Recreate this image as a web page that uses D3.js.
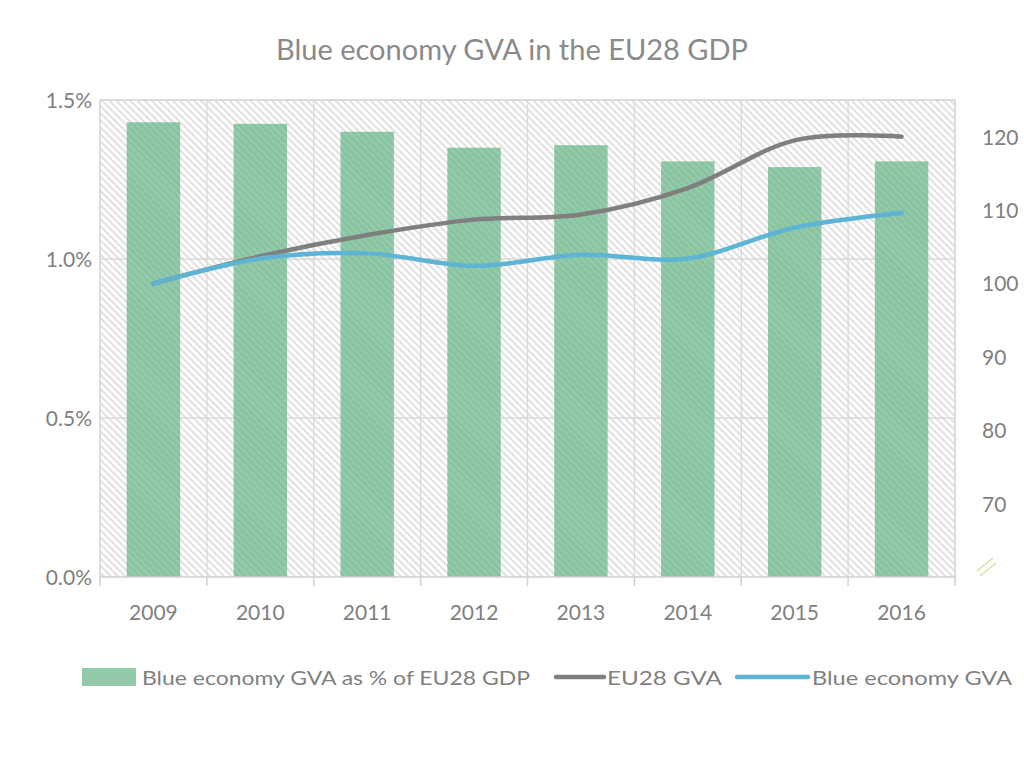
<!DOCTYPE html>
<html><head><meta charset="utf-8">
<script src="https://cdn.jsdelivr.net/npm/d3@7"></script>
<style>
html,body{margin:0;padding:0;background:#fff;}
text{font-family:Lato,"Open Sans",sans-serif;fill:#808080;}
</style></head>
<body>
<svg id="chart" width="1024" height="757"></svg>
<script>
const years = ["2009","2010","2011","2012","2013","2014","2015","2016"];
const sharePct = [1.43, 1.425, 1.40, 1.35, 1.358, 1.307, 1.289, 1.307];
const eu28Gva = [100, 103.7, 106.6, 108.7, 109.4, 113.0, 119.5, 120.0];
const blueGva = [100, 103.4, 104.1, 102.4, 103.9, 103.4, 107.6, 109.6];
const leftTicks = [0, 0.5, 1.0, 1.5];
const rightTicks = [70, 80, 90, 100, 110, 120];
const titleText = "Blue economy GVA in the EU28 GDP";
const legendLabels = ["Blue economy GVA as % of EU28 GDP", "EU28 GVA", "Blue economy GVA"];

const svg = d3.select("#chart");
const M = {left:100, right:955, top:100, bottom:577};

const defs = svg.append("defs");
const bgPat = defs.append("pattern").attr("id","bgHatch").attr("patternUnits","userSpaceOnUse")
  .attr("width",5).attr("height",5).attr("patternTransform","rotate(-45)");
bgPat.append("rect").attr("width",5).attr("height",5).attr("fill","#ffffff");
bgPat.append("line").attr("x1",1).attr("y1",0).attr("x2",1).attr("y2",5).attr("stroke","#dedede").attr("stroke-width",1.8);
const barPat = defs.append("pattern").attr("id","barHatch").attr("patternUnits","userSpaceOnUse")
  .attr("width",5).attr("height",5).attr("patternTransform","rotate(-45)");
barPat.append("rect").attr("width",5).attr("height",5).attr("fill","#92caaa");
barPat.append("line").attr("x1",1).attr("y1",0).attr("x2",1).attr("y2",5).attr("stroke","#86c09f").attr("stroke-width",1.8);

const x = d3.scaleBand().domain(years).range([M.left, M.right]).paddingInner(0).paddingOuter(0);
const yL = d3.scaleLinear().domain([0, 1.5]).range([M.bottom, M.top]);
const yR = d3.scaleLinear().domain([60, 125]).range([M.bottom, M.top]);

// background
svg.append("rect").attr("x",M.left).attr("y",M.top).attr("width",M.right-M.left).attr("height",M.bottom-M.top)
  .attr("fill","url(#bgHatch)");

// gridlines
const grid = svg.append("g");
grid.selectAll("line.h").data(leftTicks.filter(d=>d>0)).join("line")
  .attr("x1",M.left).attr("x2",M.right).attr("y1",d=>yL(d)).attr("y2",d=>yL(d))
  .attr("stroke","#d9d9d9").attr("stroke-width",1.3);
const bounds = years.map(y=>x(y)).concat([M.right]);
grid.selectAll("line.v").data(bounds).join("line")
  .attr("x1",d=>d).attr("x2",d=>d).attr("y1",M.top).attr("y2",M.bottom)
  .attr("stroke","#d9d9d9").attr("stroke-width",1.3);

// bars
const bw = x.bandwidth()*0.5;
svg.append("g").selectAll("rect").data(years).join("rect")
  .attr("x",(d)=>x(d)+x.bandwidth()/2-bw/2)
  .attr("width",bw)
  .attr("y",(d,i)=>yL(sharePct[i]))
  .attr("height",(d,i)=>yL(0)-yL(sharePct[i]))
  .attr("fill","url(#barHatch)");

// x axis
const xAxis = svg.append("g");
xAxis.append("line").attr("x1",M.left).attr("x2",M.right).attr("y1",M.bottom).attr("y2",M.bottom)
  .attr("stroke","#d0d0d0").attr("stroke-width",1.5);
xAxis.selectAll("line.t").data(bounds).join("line")
  .attr("x1",d=>d).attr("x2",d=>d).attr("y1",M.bottom).attr("y2",M.bottom+9)
  .attr("stroke","#d0d0d0").attr("stroke-width",1.5);
xAxis.selectAll("text").data(years).join("text")
  .attr("x",d=>x(d)+x.bandwidth()/2).attr("y",620)
  .attr("text-anchor","middle").attr("font-size",21).text(d=>d);

// left axis labels
svg.append("g").selectAll("text").data(leftTicks).join("text")
  .attr("x",92).attr("y",d=>yL(d)+8).attr("text-anchor","end").attr("font-size",21)
  .text(d=>d3.format(".1f")(d)+"%");

// right axis labels
svg.append("g").selectAll("text").data(rightTicks).join("text")
  .attr("x",982).attr("y",d=>yR(d)+8).attr("text-anchor","start").attr("font-size",21)
  .text(d=>d);

// axis break marks
const brk = svg.append("g").attr("stroke","#d6e29a").attr("stroke-width",1.6);
brk.append("line").attr("x1",977).attr("y1",571).attr("x2",993).attr("y2",558);
brk.append("line").attr("x1",980).attr("y1",576).attr("x2",996).attr("y2",563);

// lines
const lineGen = (arr)=>d3.line().x((d,i)=>x(years[i])+x.bandwidth()/2).y(d=>yR(d)).curve(d3.curveCardinal.tension(0))(arr);
svg.append("path").attr("d",lineGen(eu28Gva)).attr("fill","none").attr("stroke","#7f7f7f").attr("stroke-width",4.5).attr("stroke-linecap","round");
svg.append("path").attr("d",lineGen(blueGva)).attr("fill","none").attr("stroke","#5db4d4").attr("stroke-width",4.5).attr("stroke-linecap","round");

// plot border (top/left/right)
svg.append("path").attr("d",`M${M.left},${M.bottom}V${M.top}H${M.right}V${M.bottom}`)
  .attr("fill","none").attr("stroke","#d9d9d9").attr("stroke-width",1.3);

// title
svg.append("text").attr("x",512).attr("y",60).attr("text-anchor","middle").attr("font-size",29)
  .style("fill","#8a8a8a")
  .attr("textLength",472).attr("lengthAdjust","spacingAndGlyphs").text(titleText);

// legend
const lg = svg.append("g");
lg.append("rect").attr("x",82).attr("y",668).attr("width",54).attr("height",18).attr("fill","#92caaa");
lg.append("text").attr("x",142).attr("y",685).attr("font-size",20).attr("textLength",388).attr("lengthAdjust","spacingAndGlyphs").text(legendLabels[0]);
lg.append("line").attr("x1",556).attr("x2",604).attr("y1",677).attr("y2",677).attr("stroke","#7f7f7f").attr("stroke-width",4.5).attr("stroke-linecap","round");
lg.append("text").attr("x",607).attr("y",685).attr("font-size",20).attr("textLength",115).attr("lengthAdjust","spacingAndGlyphs").text(legendLabels[1]);
lg.append("line").attr("x1",737).attr("x2",808).attr("y1",677).attr("y2",677).attr("stroke","#5db4d4").attr("stroke-width",4.5).attr("stroke-linecap","round");
lg.append("text").attr("x",812).attr("y",685).attr("font-size",20).attr("textLength",200).attr("lengthAdjust","spacingAndGlyphs").text(legendLabels[2]);
</script>
</body></html>
